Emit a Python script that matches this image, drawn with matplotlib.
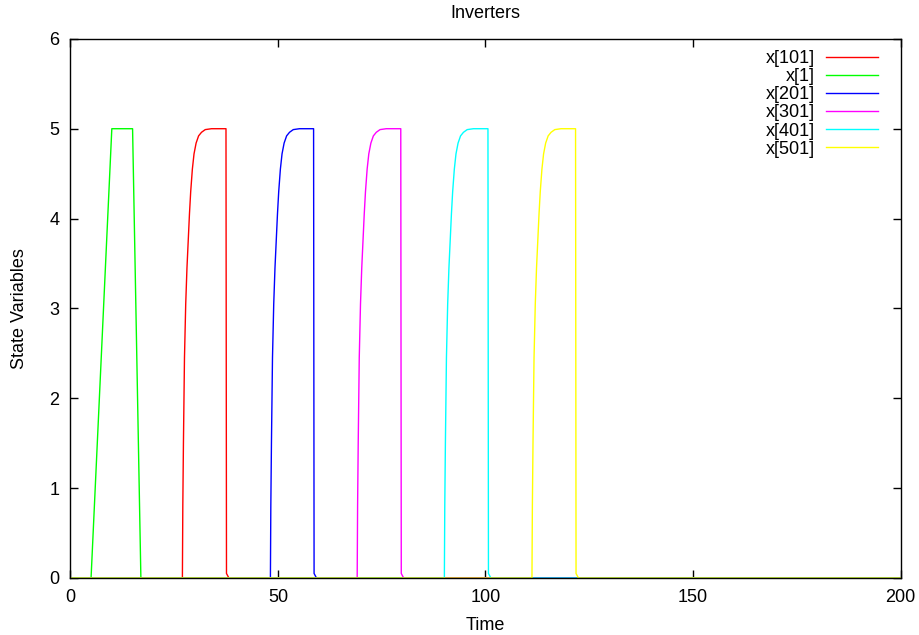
import numpy as np
import matplotlib.pyplot as plt

plt.rcParams['font.family'] = ['Liberation Sans', 'DejaVu Sans']

# series labels / colours (gnuplot order)
labels = ["x[101]", "x[1]", "x[201]", "x[301]", "x[401]", "x[501]"]
colors = ["#ff0000", "#00ff00", "#0000ff", "#ff00ff", "#00ffff", "#ffff00"]

# x[1]: input ramp
t_x1 = [0, 5, 10, 15, 17, 200]
v_x1 = [0, 0, 5, 5, 0, 0]

# inverter outputs: rise / fall times
rise_t = {"x[101]": 27.0, "x[201]": 48.2, "x[301]": 69.1, "x[401]": 90.1, "x[501]": 111.2}
fall_t = {"x[101]": 37.5, "x[201]": 58.6, "x[301]": 79.6, "x[401]": 100.6, "x[501]": 121.7}

# measured rise edge (time after start, value)
rise_dt = [0, 0.1, 0.25, 0.5, 0.8, 1.1, 1.4, 1.7, 2.0, 2.4, 2.8, 3.3, 3.9, 4.6, 5.5, 7.0]
rise_val = [0, 0.8, 1.5, 2.45, 3.05, 3.45, 3.75, 4.05, 4.3, 4.55, 4.72, 4.84, 4.92, 4.96, 4.99, 5.0]
# measured fall edge
fall_dt = [0, 0.12, 0.7]
fall_val = [5.0, 0.05, 0.0]


def pulse(name):
    t0, t1 = rise_t[name], fall_t[name]
    t = [0] + [t0 + d for d in rise_dt] + [t1 + d for d in fall_dt] + [200]
    v = [0] + rise_val + fall_val + [0]
    return t, v


fig = plt.figure(figsize=(9.19, 6.35), dpi=100)
ax = fig.add_axes([0.0765, 0.0898, 0.9035, 0.849])

fs = 13
for lab, col in zip(labels, colors):
    if lab == "x[1]":
        t, v = t_x1, v_x1
    else:
        t, v = pulse(lab)
    ax.plot(t, v, color=col, linewidth=1.0, label=lab)

ax.set_xlim(0, 200)
ax.set_ylim(0, 6)
ax.set_xticks([0, 50, 100, 150, 200])
ax.set_yticks([0, 1, 2, 3, 4, 5, 6])
ax.tick_params(direction='in', length=6, width=1, top=True, right=True,
               labelsize=fs, pad=8)
for s in ax.spines.values():
    s.set_linewidth(1.0)

ax.set_title("Inverters", fontsize=fs, pad=15)
ax.set_xlabel("Time", fontsize=fs, labelpad=8)
ax.set_ylabel("State Variables", fontsize=fs, labelpad=15)

ax.legend(loc='upper right', bbox_to_anchor=(0.9727, 0.979), frameon=False,
          markerfirst=False, fontsize=fs, handlelength=2.9, handletextpad=0.6,
          labelspacing=0.06, borderpad=0, borderaxespad=0)

plt.savefig("out.png", dpi=100)
